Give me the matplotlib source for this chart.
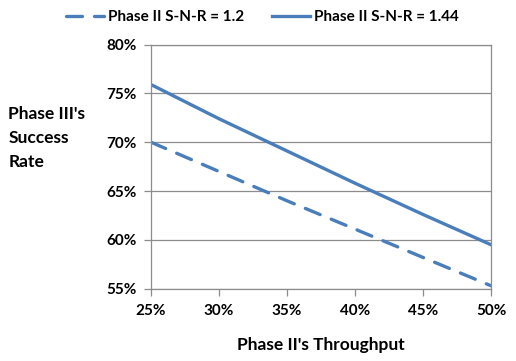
import matplotlib
matplotlib.use("Agg")
import matplotlib.pyplot as plt
from matplotlib.ticker import FuncFormatter

# data
throughput = [0.25, 0.30, 0.35, 0.40, 0.45, 0.50]
snr_120 = [0.700, 0.670, 0.640, 0.611, 0.582, 0.553]
snr_144 = [0.759, 0.724, 0.691, 0.658, 0.626, 0.595]
labels = ["Phase II S-N-R = 1.2", "Phase II S-N-R = 1.44"]

plt.rcParams['font.family'] = ['Lato', 'DejaVu Sans']
plt.rcParams['font.weight'] = 'bold'

blue = '#4a7ebb'
grey = '#8c8c8c'

fig = plt.figure(figsize=(5.16, 3.61), dpi=100)
ax = fig.add_axes([0.2926, 0.2003, 0.6590, 0.6764])

l1, = ax.plot(throughput, snr_120, color=blue, lw=2.4, dashes=(4.8, 3.6),
              dash_capstyle='round', label=labels[0])
l2, = ax.plot(throughput, snr_144, color=blue, lw=2.4, label=labels[1])

ax.set_xlim(0.25, 0.50)
ax.set_ylim(0.55, 0.80)
ax.set_xticks(throughput)
ax.set_yticks([0.55, 0.60, 0.65, 0.70, 0.75, 0.80])
pct = FuncFormatter(lambda v, p: '{:.0f}%'.format(v * 100))
ax.xaxis.set_major_formatter(pct)
ax.yaxis.set_major_formatter(pct)
ax.grid(axis='y', color=grey, lw=0.9)
ax.set_axisbelow(True)
for s in ax.spines.values():
    s.set_color(grey)
    s.set_linewidth(0.9)
ax.tick_params(axis='both', colors=grey, labelcolor='black', length=5, width=0.9,
               labelsize=11)
ax.tick_params(axis='x', pad=6)
ax.tick_params(axis='y', pad=5)

ax.set_xlabel("Phase II's Throughput", fontsize=12.5, fontweight='bold', labelpad=14)
fig.text(0.016, 0.705, "Phase III's\nSuccess\nRate", fontsize=12.5, fontweight='bold',
         va='top', ha='left', linespacing=1.6)

fig.legend(handles=[l1, l2], loc='upper center', bbox_to_anchor=(0.508, 1.01), ncol=2,
           frameon=False, fontsize=11, handlelength=2.5, handletextpad=0.25,
           columnspacing=1.8)

fig.savefig('out.png', dpi=100)
